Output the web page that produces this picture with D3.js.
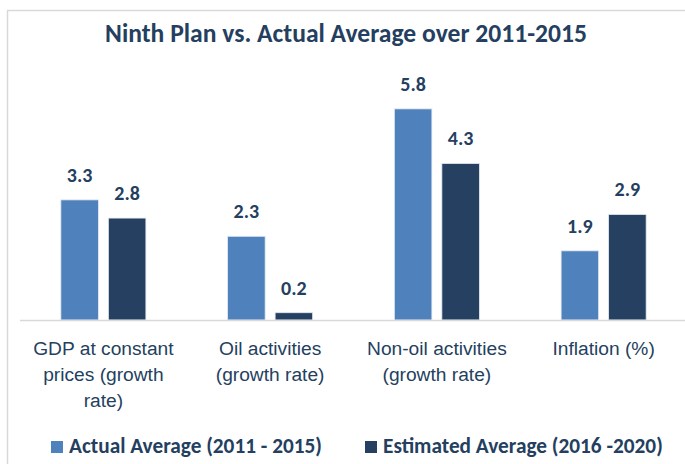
<!DOCTYPE html>
<html>
<head>
<meta charset="utf-8">
<script src="https://cdn.jsdelivr.net/npm/d3@7"></script>
<style>
  html, body { margin: 0; padding: 0; background: #fff; }
  svg { display: block; font-family: Carlito, Lato, "Open Sans", sans-serif; }
</style>
</head>
<body>
<svg id="chart" width="685" height="464"></svg>
<script>
// Plan targets vs. actual outcomes
const categories = ["GDP", "Oil", "NonOil", "Inflation"];
const categoryLines = [
  ["GDP at constant", "prices (growth", "rate)"],
  ["Oil activities", "(growth rate)"],
  ["Non-oil activities", "(growth rate)"],
  ["Inflation (%)"]
];
const seriesNames = ["Actual Average (2011 - 2015)", "Estimated Average (2016 -2020)"];
const actualValues = [3.3, 2.3, 5.8, 1.9];
const estimatedValues = [2.8, 0.2, 4.3, 2.9];
const titleText = "Ninth Plan vs. Actual Average over 2011-2015";

const colors = ["#4f81bd", "#264061"];
const textColor = "#243f60";

const svg = d3.select("#chart");

// outer frame
svg.append("path")
  .attr("d", "M7.5,464 L7.5,10.5 L685,10.5")
  .attr("fill", "none")
  .attr("stroke", "#d9d9d9")
  .attr("stroke-width", 1.5);

const baseY = 320;
const x0 = d3.scaleBand().domain(categories).range([20, 687])
  .paddingInner(0.49).paddingOuter(0.245);
const x1 = d3.scaleBand().domain([0, 1]).range([0, x0.bandwidth()]).paddingInner(0.21);
const y = d3.scaleLinear().domain([0, 6]).range([baseY, baseY - 218.4]);

const rows = categories.map((c, i) => ({ cat: c, vals: [actualValues[i], estimatedValues[i]] }));

const groups = svg.append("g").selectAll("g").data(rows).join("g")
  .attr("transform", d => `translate(${x0(d.cat)},0)`);

groups.selectAll("rect").data(d => d.vals.map((v, s) => ({ v, s }))).join("rect")
  .attr("x", d => x1(d.s))
  .attr("width", x1.bandwidth())
  .attr("y", d => y(d.v))
  .attr("height", d => y(0) - y(d.v))
  .attr("fill", d => colors[d.s])
  .attr("stroke", "#e4e9f0")
  .attr("stroke-width", 0.8);

groups.selectAll("text.val").data(d => d.vals.map((v, s) => ({ v, s }))).join("text")
  .attr("class", "val")
  .attr("x", d => x1(d.s) + x1.bandwidth() / 2)
  .attr("y", d => y(d.v) - 18)
  .attr("text-anchor", "middle")
  .attr("font-size", 20)
  .attr("font-weight", "bold")
  .attr("fill", textColor)
  .text(d => d.v.toFixed(1));

// category axis
const xAxis = svg.append("g")
  .attr("transform", `translate(0,${baseY})`)
  .call(d3.axisBottom(x0).tickSize(0).tickFormat(""));
xAxis.select(".domain").remove();
svg.append("line")
  .attr("x1", 20).attr("x2", 685)
  .attr("y1", baseY + 0.5).attr("y2", baseY + 0.5)
  .attr("stroke", "#d9d9d9").attr("stroke-width", 1.5);

xAxis.selectAll(".tick").each(function (d, i) {
  const t = d3.select(this).append("text")
    .attr("text-anchor", "middle")
    .attr("fill", textColor)
    .attr("font-size", 19.2)
    .attr("y", 35);
  categoryLines[i].forEach((line, k) => {
    t.append("tspan").attr("x", 0).attr("dy", k === 0 ? 0 : 26).text(line);
  });
});

// title
svg.append("text")
  .attr("x", 346).attr("y", 42)
  .attr("text-anchor", "middle")
  .attr("font-size", 25.6)
  .attr("font-weight", "bold")
  .attr("fill", textColor)
  .text(titleText);

// legend
const legendX = [51, 365];
const legend = svg.append("g").selectAll("g").data(seriesNames).join("g")
  .attr("transform", (d, i) => `translate(${legendX[i]},441)`);
legend.append("rect")
  .attr("width", 12).attr("height", 12)
  .attr("fill", (d, i) => colors[i]);
legend.append("text")
  .attr("x", 18).attr("y", 12)
  .attr("font-size", 21.3)
  .attr("font-weight", "bold")
  .attr("fill", textColor)
  .text(d => d);
</script>
</body>
</html>
